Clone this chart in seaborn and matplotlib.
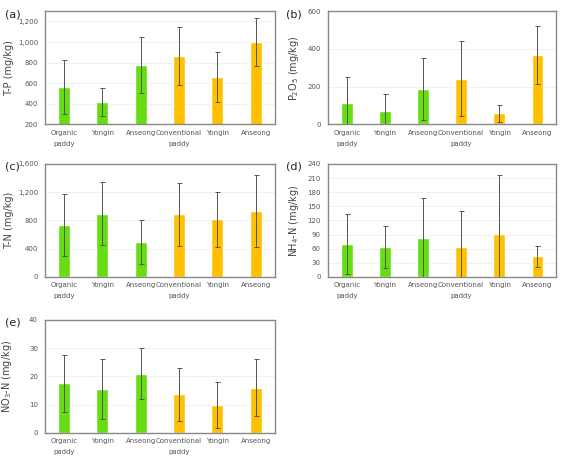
import matplotlib
matplotlib.use("Agg")
import matplotlib.pyplot as plt
import matplotlib.ticker as mticker
import numpy as np
import pandas as pd
import seaborn as sns

sns.set_style("white")
plt.rcParams['font.family'] = ['DejaVu Sans']

categories = ["Organic\npaddy", "Yongin", "Anseong", "Conventional\npaddy", "Yongin", "Anseong"]
groups = ["Organic", "Organic", "Organic", "Conventional", "Conventional", "Conventional"]

tp_mean = [560, 415, 780, 865, 660, 1000]
tp_err = [265, 137, 272, 283, 240, 233]
p2o5_mean = [115, 68, 188, 242, 57, 367]
p2o5_err = [135, 95, 163, 200, 44, 154]
tn_mean = [740, 895, 490, 885, 815, 935]
tn_err = [440, 443, 310, 443, 385, 505]
nh4_mean = [70, 63, 82, 63, 92, 44]
nh4_err = [63, 45, 86, 78, 124, 22]
no3_mean = [17.5, 15.5, 21.0, 13.7, 9.8, 16.0]
no3_err = [10.2, 10.6, 9.0, 9.4, 8.2, 10.0]

colors = {"Organic": "#66dd11", "Conventional": "#ffc000"}

panels = [
    ("(a)", "T-P (mg/kg)", tp_mean, tp_err, (200, 1300), np.arange(200, 1201, 200), [0.079, 0.734, 0.404, 0.242]),
    ("(b)", "P$_2$O$_5$ (mg/kg)", p2o5_mean, p2o5_err, (0, 600), np.arange(0, 601, 200), [0.576, 0.734, 0.402, 0.242]),
    ("(c)", "T-N (mg/kg)", tn_mean, tn_err, (0, 1600), np.arange(0, 1601, 400), [0.079, 0.407, 0.404, 0.242]),
    ("(d)", "NH$_4$-N (mg/kg)", nh4_mean, nh4_err, (0, 240), np.arange(0, 241, 30), [0.576, 0.407, 0.402, 0.242]),
    ("(e)", "NO$_3$-N (mg/kg)", no3_mean, no3_err, (0, 40), np.arange(0, 41, 10), [0.079, 0.073, 0.404, 0.242]),
]

fig = plt.figure(figsize=(5.69, 4.67), dpi=100)
for label, ylabel, means, errs, ylim, yticks, rect in panels:
    ax = fig.add_axes(rect)
    df = pd.DataFrame({"pos": list(range(6)), "value": means, "group": groups})
    sns.barplot(data=df, x="pos", y="value", hue="group", palette=colors, saturation=1,
                dodge=False, width=0.31, legend=False, ax=ax, zorder=2)
    ax.errorbar(x=np.arange(6), y=means, yerr=errs, fmt="none", ecolor="#555555",
                elinewidth=0.7, capsize=1.8, capthick=0.7, zorder=3)
    ax.set_ylim(*ylim)
    ax.set_xlim(-0.5, 5.5)
    ax.set_yticks(yticks)
    ax.yaxis.set_major_formatter(mticker.FuncFormatter(lambda v, p: f"{int(v):,}"))
    ax.set_xticks(range(6))
    ax.set_xticklabels(categories, fontsize=5, color="#555555", linespacing=2.0)
    ax.tick_params(axis="y", labelsize=5, colors="#555555", length=2, width=0.6, pad=3)
    ax.tick_params(axis="x", length=0, pad=4)
    ax.grid(axis="y", color="#eeeeee", linewidth=0.6, zorder=0)
    ax.set_axisbelow(True)
    for s in ax.spines.values():
        s.set_color("#888888")
        s.set_linewidth(1.0)
    ax.set_xlabel("")
    ax.set_ylabel(ylabel, fontsize=7, color="#444444")
    xlab_px = 14 if rect[0] < 0.5 else 301
    ax.yaxis.set_label_coords((xlab_px / 569 - rect[0]) / rect[2], 0.5)
    lx = 0.008 if rect[0] < 0.5 else 0.502
    fig.text(lx, rect[1] + rect[3] - 0.006, label, fontsize=8, color="#222222",
             ha="left", va="center")

fig.savefig("out.png", dpi=100, facecolor="white")
